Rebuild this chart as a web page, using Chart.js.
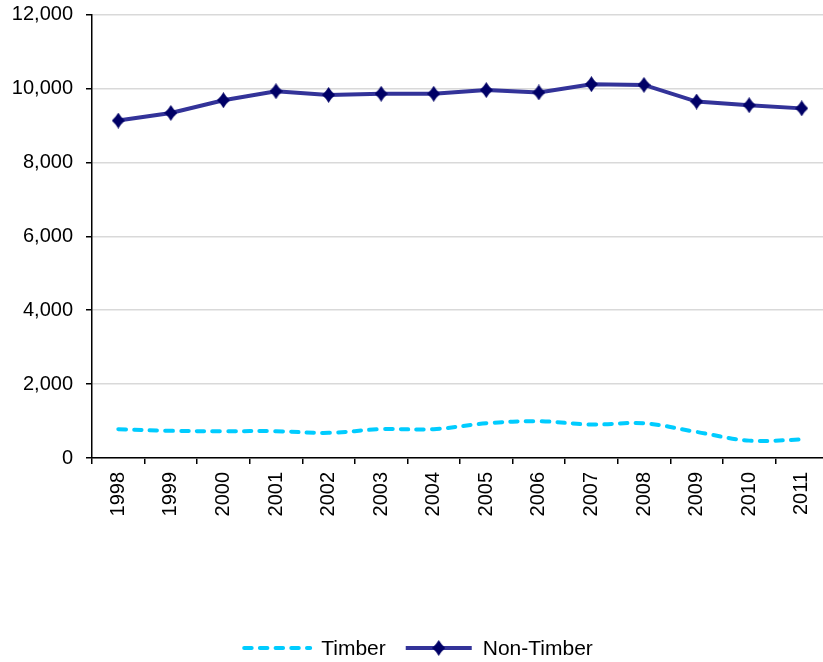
<!DOCTYPE html>
<html>
<head>
<meta charset="utf-8">
<script src="https://cdn.jsdelivr.net/npm/chart.js@4"></script>
<style>
  html, body { margin: 0; padding: 0; background: #fff; overflow: hidden; }
  #wrap { width: 835px; height: 662px; }
</style>
</head>
<body>
<div id="wrap"><canvas id="c" width="835" height="662"></canvas></div>
<script>
// Annual figures, 1998-2011
const years = ['1998','1999','2000','2001','2002','2003','2004','2005','2006','2007','2008','2009','2010','2011'];
const timber = [780, 735, 725, 725, 680, 780, 780, 940, 995, 905, 940, 705, 470, 500];
const nonTimber = [9130, 9335, 9680, 9925, 9825, 9855, 9855, 9955, 9890, 10115, 10095, 9645, 9545, 9460];
const yTicks = [0, 2000, 4000, 6000, 8000, 10000, 12000];

const FONT = '"Liberation Sans", Arial, Helvetica, sans-serif';
const FONT_SIZE = 20;
const LEGEND_FONT_SIZE = 21;
const TIMBER_COLOR = '#00CCFF';
const NON_TIMBER_COLOR = '#333399';
const MARKER_COLOR = '#000066';

// Tall diamond marker with slightly pinched sides
function makeDiamond(w, h, color) {
  const c = document.createElement('canvas');
  c.width = w; c.height = h;
  const g = c.getContext('2d');
  const cx = w / 2, cy = h / 2, k = 0.82;
  g.fillStyle = color;
  g.beginPath();
  g.moveTo(cx, 0);
  g.quadraticCurveTo(cx + (w / 4) * k, cy - (h / 4) * k, w, cy);
  g.quadraticCurveTo(cx + (w / 4) * k, cy + (h / 4) * k, cx, h);
  g.quadraticCurveTo(cx - (w / 4) * k, cy + (h / 4) * k, 0, cy);
  g.quadraticCurveTo(cx - (w / 4) * k, cy - (h / 4) * k, cx, 0);
  g.closePath();
  g.fill();
  return c;
}
const diamond = makeDiamond(13, 16, MARKER_COLOR);

// Bottom legend: line swatches (dashed / solid with diamond) followed by text
const lineLegend = {
  id: 'lineLegend',
  afterDraw(chart) {
    const ctx = chart.ctx;
    const y = 648;
    const swatch = 70, gap = 9, itemGap = 18;
    ctx.save();
    ctx.font = LEGEND_FONT_SIZE + 'px ' + FONT;
    ctx.textBaseline = 'middle';
    const items = chart.data.datasets.map(ds => ({ ds, w: ctx.measureText(ds.label).width }));
    const total = items.reduce((s, it) => s + swatch + gap + it.w, 0) + itemGap * (items.length - 1);
    let x = (chart.width - total) / 2;
    items.forEach(({ ds, w }) => {
      ctx.beginPath();
      ctx.strokeStyle = ds.borderColor;
      ctx.lineWidth = ds.borderWidth;
      ctx.lineCap = ds.borderCapStyle || 'butt';
      ctx.setLineDash(ds.borderDash || []);
      ctx.moveTo(x + 2, y);
      ctx.lineTo(x + swatch - 2, y);
      ctx.stroke();
      ctx.setLineDash([]);
      if (ds.pointStyle instanceof HTMLCanvasElement) {
        const img = ds.pointStyle;
        ctx.drawImage(img, x + swatch / 2 - img.width / 2, y - img.height / 2);
      }
      ctx.fillStyle = '#000';
      ctx.textAlign = 'left';
      ctx.fillText(ds.label, x + swatch + gap, y + 1);
      x += swatch + gap + w + itemGap;
    });
    ctx.restore();
  }
};

new Chart(document.getElementById('c'), {
  type: 'line',
  data: {
    labels: years,
    datasets: [
      {
        label: 'Timber',
        data: timber,
        borderColor: TIMBER_COLOR,
        backgroundColor: TIMBER_COLOR,
        borderWidth: 4,
        borderDash: [7.5, 8.2],
        borderCapStyle: 'round',
        pointRadius: 0,
        tension: 0.35,
        fill: false
      },
      {
        label: 'Non-Timber',
        data: nonTimber,
        borderColor: NON_TIMBER_COLOR,
        backgroundColor: MARKER_COLOR,
        borderWidth: 4,
        pointStyle: diamond,
        pointRadius: 7,
        pointBackgroundColor: MARKER_COLOR,
        pointBorderColor: MARKER_COLOR,
        pointBorderWidth: 0,
        tension: 0,
        fill: false
      }
    ]
  },
  options: {
    responsive: false,
    animation: false,
    layout: { padding: { top: 14.5, right: 5.5, bottom: 0, left: 0 } },
    plugins: {
      legend: { display: false },
      tooltip: { enabled: false }
    },
    scales: {
      x: {
        offset: true,
        grid: {
          offset: true,
          drawOnChartArea: false,
          drawTicks: true,
          tickLength: 6,
          tickColor: '#000',
          lineWidth: 1.5
        },
        border: { display: true, color: '#000', width: 1.5 },
        ticks: {
          color: '#000',
          font: { family: FONT, size: FONT_SIZE },
          minRotation: 90,
          maxRotation: 90,
          padding: 8,
          autoSkip: false
        },
        afterFit(scale) { scale.height = 662 - 458; }
      },
      y: {
        min: 0,
        max: 12000,
        afterBuildTicks(scale) { scale.ticks = yTicks.map(v => ({ value: v })); },
        grid: {
          color: '#D9D9D9',
          lineWidth: 1.5,
          drawTicks: true,
          tickLength: 6,
          tickColor: '#000'
        },
        border: { display: true, color: '#000', width: 1.5 },
        ticks: {
          color: '#000',
          font: { family: FONT, size: FONT_SIZE },
          padding: 13,
          callback: v => v.toLocaleString('en-US')
        },
        afterFit(scale) {
          scale.width = 92;
          scale.paddingTop = 0;
          scale.paddingBottom = 0;
        }
      }
    }
  },
  plugins: [lineLegend]
});
</script>
</body>
</html>
